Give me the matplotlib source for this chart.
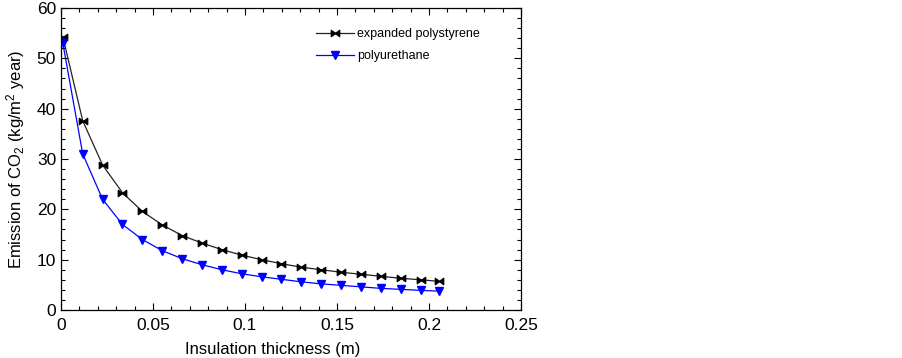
import matplotlib
matplotlib.use("Agg")
import matplotlib.pyplot as plt
from matplotlib.path import Path
from matplotlib.ticker import MultipleLocator

plt.rcParams['font.family'] = ['Liberation Sans', 'DejaVu Sans']
plt.rcParams['mathtext.fontset'] = 'custom'
plt.rcParams['mathtext.rm'] = 'Liberation Sans'
plt.rcParams['mathtext.default'] = 'regular'

thickness = [0.001, 0.0118, 0.0226, 0.0334, 0.0442, 0.055, 0.0658, 0.0766, 0.0874, 0.0982,
             0.109, 0.1198, 0.1306, 0.1414, 0.1522, 0.163, 0.1738, 0.1846, 0.1954, 0.2052]
eps = [54.3, 37.6, 28.8, 23.3, 19.6, 16.9, 14.8, 13.3, 12.0, 10.9,
       10.0, 9.2, 8.5, 8.0, 7.5, 7.1, 6.7, 6.3, 6.0, 5.7]
pur = [53.0, 31.0, 22.0, 17.0, 14.0, 11.8, 10.2, 9.0, 8.0, 7.2,
       6.6, 6.1, 5.6, 5.2, 4.9, 4.6, 4.3, 4.1, 3.9, 3.75]
xtick_vals = [0, 0.05, 0.1, 0.15, 0.2, 0.25]
xtick_labels = ['0', '0.05', '0.1', '0.15', '0.2', '0.25']

bowtie = Path([(-1, -0.75), (-1, 0.75), (0, 0), (-1, -0.75),
               (1, -0.75), (1, 0.75), (0, 0), (1, -0.75)],
              [Path.MOVETO, Path.LINETO, Path.LINETO, Path.CLOSEPOLY,
               Path.MOVETO, Path.LINETO, Path.LINETO, Path.CLOSEPOLY])

fig = plt.figure(figsize=(9.03, 3.58), dpi=100)
ax = fig.add_axes([61/903, 1-310/358, 460/903, 302/358])

ax.plot(thickness, eps, color='#222222', lw=0.9, marker=bowtie, ms=6,
        mfc='black', mec='black', label='expanded polystyrene')
ax.plot(thickness, pur, color='#0000ff', lw=0.9, marker='v', ms=5.5,
        mfc='#0000ff', mec='#0000ff', label='polyurethane')

ax.set_xlim(0, 0.25)
ax.set_ylim(0, 60)
ax.xaxis.set_minor_locator(MultipleLocator(0.01))
ax.yaxis.set_major_locator(MultipleLocator(10))
ax.yaxis.set_minor_locator(MultipleLocator(2))
ax.set_xticks(xtick_vals)
ax.set_xticklabels(xtick_labels)
ax.tick_params(which='both', direction='in', top=True, right=True, labelsize=12.5)
ax.tick_params(which='major', length=5, width=0.8)
ax.tick_params(which='minor', length=3, width=0.8)
ax.tick_params(axis='x', pad=6)
for s in ax.spines.values():
    s.set_linewidth(0.9)

ax.set_xlabel('Insulation thickness (m)', fontsize=12)
ax.xaxis.set_label_coords(0.461, -0.105)
ax.set_ylabel('Emission of CO$_2$ (kg/m$^2$ year)', fontsize=12, labelpad=7)

ax.legend(loc='upper left', bbox_to_anchor=(0.53, 0.97), frameon=False,
          fontsize=9, handlelength=3.0, handletextpad=0.25, labelspacing=0.8)

fig.savefig('out.png', dpi=100)
